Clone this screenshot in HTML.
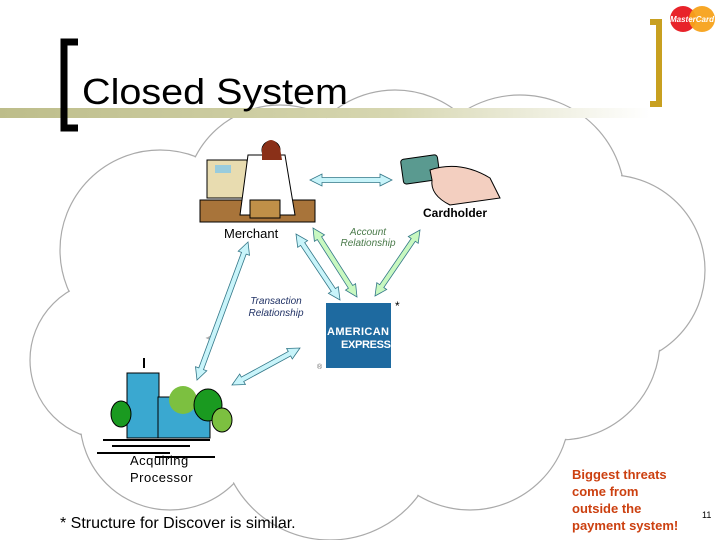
<!DOCTYPE html>
<html><head><style>
body{margin:0;width:720px;height:540px;overflow:hidden;background:#fff;font-family:"Liberation Sans",sans-serif}
</style></head><body>
<svg id="s" width="720" height="540" xmlns="http://www.w3.org/2000/svg">
<defs><linearGradient id="band" x1="0" x2="1"><stop offset="0" stop-color="#bdbd8a"/><stop offset="0.6" stop-color="#d6d6b0"/><stop offset="1" stop-color="#fff"/></linearGradient></defs>
<g id="cl" stroke="#aaa" stroke-width="1.2" fill="#fff">
<circle cx="160" cy="250" r="100"/><circle cx="280" cy="200" r="95"/><circle cx="395" cy="190" r="100"/><circle cx="520" cy="200" r="105"/><circle cx="610" cy="270" r="95"/><circle cx="560" cy="340" r="100"/><circle cx="110" cy="360" r="80"/><circle cx="170" cy="420" r="90"/><circle cx="330" cy="430" r="110"/><circle cx="470" cy="410" r="100"/><circle cx="380" cy="310" r="170"/>
</g>
<g fill="#fff">
<circle cx="160" cy="250" r="99"/><circle cx="280" cy="200" r="94"/><circle cx="395" cy="190" r="99"/><circle cx="520" cy="200" r="104"/><circle cx="610" cy="270" r="94"/><circle cx="560" cy="340" r="99"/><circle cx="110" cy="360" r="79"/><circle cx="170" cy="420" r="89"/><circle cx="330" cy="430" r="109"/><circle cx="470" cy="410" r="99"/><circle cx="380" cy="310" r="169"/>
</g>
<rect x="0" y="108" width="650" height="10" fill="url(#band)"/>
<path d="M78 42 H64 V128 H78" fill="none" stroke="#000" stroke-width="7"/>
<path d="M650 22 H659 V104 H650" fill="none" stroke="#c8a020" stroke-width="6"/>
<text x="82" y="104" font-size="36" fill="#000" textLength="266" lengthAdjust="spacingAndGlyphs">Closed System</text>
<circle cx="683" cy="19" r="13" fill="#e8232a"/><circle cx="702" cy="19" r="13" fill="#f7a21b" opacity="0.95"/>
<text x="692" y="22" font-size="8" text-anchor="middle" fill="#fff" font-style="italic" font-weight="bold">MasterCard</text>
<!-- merchant -->
<rect x="200" y="200" width="115" height="22" fill="#a8743a" stroke="#000"/>
<rect x="207" y="160" width="40" height="38" fill="#e8dcb0" stroke="#000"/>
<rect x="215" y="165" width="16" height="8" fill="#9cd"/>
<path d="M248 155 L285 155 L295 215 L240 215 Z" fill="#fff" stroke="#000"/>
<circle cx="271" cy="150" r="9" fill="#f0c8a8" stroke="#000"/><path d="M262 148 Q271 132 280 148 L282 160 L262 160Z" fill="#8a3018"/>
<rect x="250" y="200" width="30" height="18" fill="#c09048" stroke="#000"/>
<!-- card hand -->
<rect x="402" y="157" width="37" height="25" rx="3" fill="#5a9a90" stroke="#000" transform="rotate(-8 420 170)"/>
<path d="M430 170 Q460 160 490 178 L500 198 L450 205 Q430 195 432 180Z" fill="#f3cfc0" stroke="#000"/>
<text x="487" y="217" font-size="12" font-weight="bold" text-anchor="end">Cardholder</text>
<text x="224" y="238" font-size="13">Merchant</text>
<text x="368" y="235" font-size="10" font-style="italic" fill="#4a7a4a" text-anchor="middle">Account</text>
<text x="368" y="246" font-size="10" font-style="italic" fill="#4a7a4a" text-anchor="middle">Relationship</text>
<text x="276" y="304" font-size="10" font-style="italic" fill="#223366" text-anchor="middle">Transaction</text>
<text x="276" y="316" font-size="10" font-style="italic" fill="#223366" text-anchor="middle">Relationship</text>
<text x="395" y="310" font-size="12">*</text>
<rect x="326" y="303" width="65" height="65" fill="#1e6aa0"/>
<text x="358" y="335" font-size="11" font-weight="bold" fill="#fff" text-anchor="middle" textLength="62">AMERICAN</text>
<text x="366" y="348" font-size="11" font-weight="bold" fill="#fff" text-anchor="middle" textLength="50">EXPRESS</text>
<text x="317" y="369" font-size="7" fill="#666">®</text>
<!-- building -->
<line x1="144" y1="358" x2="144" y2="368" stroke="#000" stroke-width="2"/>
<rect x="127" y="373" width="32" height="65" fill="#3aa8d0" stroke="#000"/>
<rect x="158" y="397" width="52" height="41" fill="#3aa8d0" stroke="#000"/>
<circle cx="183" cy="400" r="14" fill="#7cc040"/>
<ellipse cx="208" cy="405" rx="14" ry="16" fill="#1a9a20" stroke="#000"/>
<ellipse cx="222" cy="420" rx="10" ry="12" fill="#7cc040" stroke="#000"/>
<ellipse cx="121" cy="414" rx="10" ry="13" fill="#1a9a20" stroke="#000"/>
<g stroke="#000" stroke-width="2"><line x1="103" y1="440" x2="210" y2="440"/><line x1="112" y1="446" x2="190" y2="446"/><line x1="97" y1="453" x2="170" y2="453"/><line x1="155" y1="457" x2="215" y2="457"/></g>
<text x="130" y="465" font-size="13" letter-spacing="0.5">Acquiring</text>
<text x="130" y="482" font-size="13" letter-spacing="0.5">Processor</text>
<text x="60" y="528" font-size="16">* Structure for Discover is similar.</text>
<g font-size="13" font-weight="bold" fill="#cc4010"><text x="572" y="479">Biggest threats</text><text x="572" y="496">come from</text><text x="572" y="513">outside the</text><text x="572" y="530">payment system!</text></g>
<text x="702" y="518" font-size="9">11</text>
</svg>
<script>
var s=document.getElementById('s');
function arr(x1,y1,x2,y2,c){var dx=x2-x1,dy=y2-y1,L=Math.hypot(dx,dy),ux=dx/L,uy=dy/L,nx=-uy,ny=ux,w=2.5,hw=6,hl=12;
function p(t,o){return (x1+ux*t+nx*o).toFixed(1)+','+(y1+uy*t+ny*o).toFixed(1)}
var pts=[p(0,0),p(hl,hw),p(hl,w),p(L-hl,w),p(L-hl,hw),p(L,0),p(L-hl,-hw),p(L-hl,-w),p(hl,-w),p(hl,-hw)];
var e=document.createElementNS('http://www.w3.org/2000/svg','polygon');e.setAttribute('points',pts.join(' '));e.setAttribute('fill',c);e.setAttribute('stroke','#337788');e.setAttribute('stroke-width','0.8');s.appendChild(e);}
arr(310,180,392,180,'#c8f4fa');
arr(296,234,340,300,'#c8f4fa');
arr(313,228,357,297,'#c8f8c0');
arr(420,230,375,296,'#c8f8c0');
arr(248,242,197,380,'#c8f4fa');
arr(232,385,300,348,'#c8f4fa');
</script>
</body></html>
